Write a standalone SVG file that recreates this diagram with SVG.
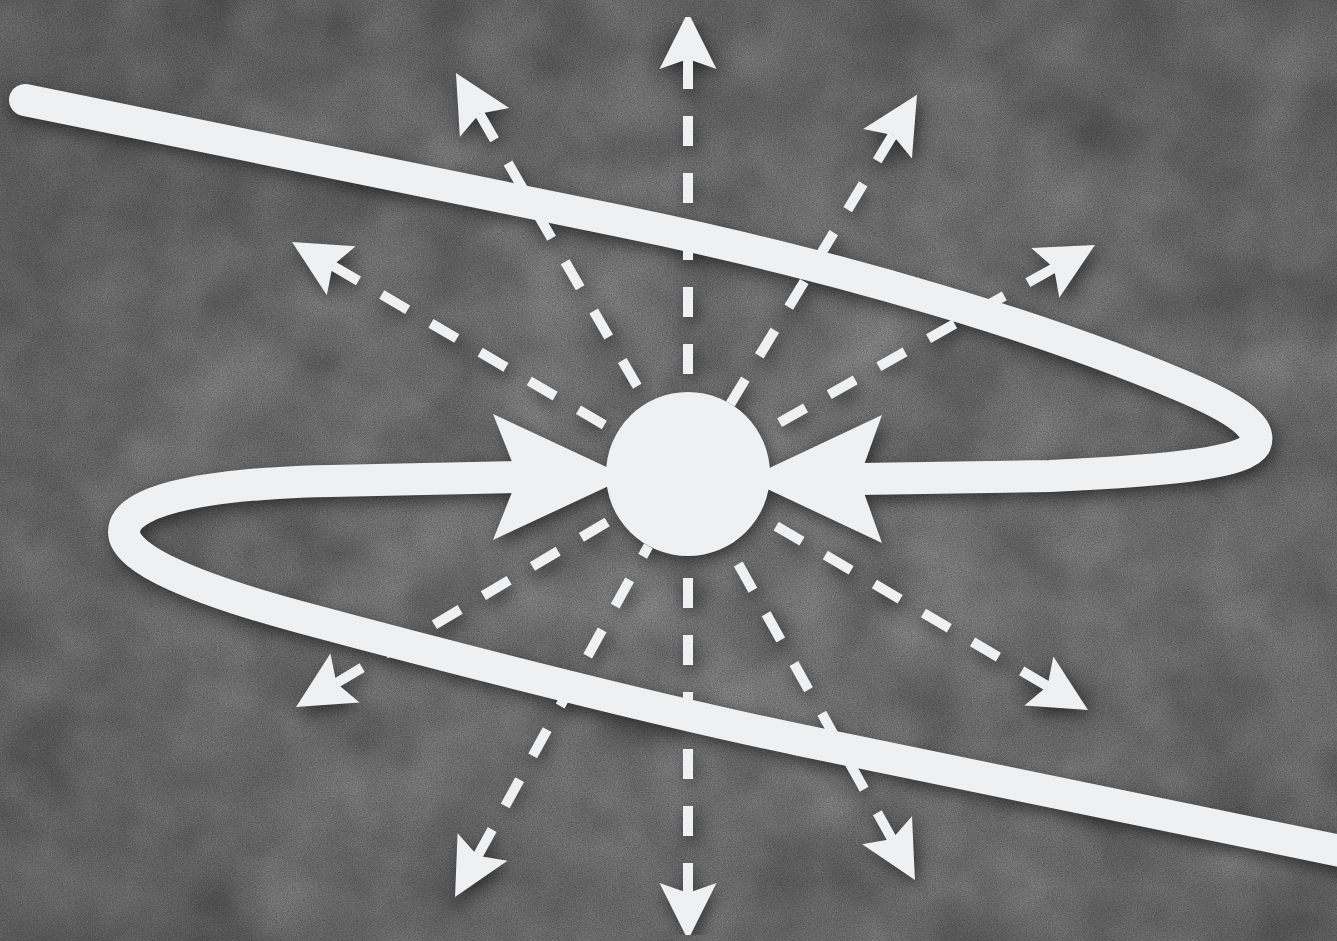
<svg xmlns="http://www.w3.org/2000/svg" width="1337" height="941" viewBox="0 0 1337 941">
<defs>
<style>
.ray{stroke:#eef0f2;stroke-width:10;stroke-dasharray:30 27;fill:none;marker-start:url(#head)}
.curve{stroke:#eef0f2;stroke-width:32;fill:none;stroke-linecap:round;stroke-linejoin:round}
.big{fill:#eef0f2}
filter{color-interpolation-filters:sRGB}
</style>
<marker id="head" markerUnits="userSpaceOnUse" orient="auto-start-reverse" refX="10" refY="0" markerWidth="60" markerHeight="60" overflow="visible">
<path d="M0,-28.5 L57,0 L0,28.5 L10,0 Z" fill="#eef0f2"/>
</marker>
<radialGradient id="bgGrad" cx="0.55" cy="0.55" r="0.75">
<stop offset="0" stop-color="#717171"/>
<stop offset="0.6" stop-color="#666666"/>
<stop offset="1" stop-color="#575757"/>
</radialGradient>
<filter id="grain" x="0" y="0" width="1337" height="941" filterUnits="userSpaceOnUse" color-interpolation-filters="sRGB">
<feTurbulence type="fractalNoise" baseFrequency="0.8" numOctaves="2" seed="7"/>
<feColorMatrix type="matrix" values="0.33 0.33 0.33 0 0  0.33 0.33 0.33 0 0  0.33 0.33 0.33 0 0  0 0 0 0 1"/>
</filter>
<filter id="mottle" x="0" y="0" width="1337" height="941" filterUnits="userSpaceOnUse" color-interpolation-filters="sRGB">
<feTurbulence type="fractalNoise" baseFrequency="0.012" numOctaves="3" seed="4"/>
<feColorMatrix type="matrix" values="0.33 0.33 0.33 0 0  0.33 0.33 0.33 0 0  0.33 0.33 0.33 0 0  0 0 0 0 1"/>
</filter>
<filter id="shadow" x="-5%" y="-5%" width="110%" height="110%" color-interpolation-filters="sRGB">
<feGaussianBlur in="SourceAlpha" stdDeviation="8"/>
<feOffset dx="3" dy="6" result="b"/>
<feFlood flood-color="#000" flood-opacity="0.5"/>
<feComposite in2="b" operator="in"/>
<feMerge><feMergeNode/><feMergeNode in="SourceGraphic"/></feMerge>
</filter>
</defs>
<g id="background">
<rect width="1337" height="941" fill="url(#bgGrad)"/>
<rect width="1337" height="941" filter="url(#mottle)" opacity="0.4" style="mix-blend-mode:overlay"/>
<rect width="1337" height="941" filter="url(#grain)" opacity="0.5" style="mix-blend-mode:overlay"/>
</g>
<g id="foreground" filter="url(#shadow)">
<g id="connectors">
<g id="rays">
<line class="ray" x1="688" y1="59" x2="688" y2="392"/>
<line class="ray" x1="688" y1="893" x2="688" y2="556"/>
<line class="ray" x1="892.7" y1="135.1" x2="730.4" y2="403.8"/>
<line class="ray" x1="479.5" y1="113.7" x2="646.9" y2="403"/>
<line class="ray" x1="1054" y1="268" x2="759.5" y2="433.8"/>
<line class="ray" x1="332.6" y1="265.7" x2="617.2" y2="432.5"/>
<line class="ray" x1="336.4" y1="683" x2="617.5" y2="515.9"/>
<line class="ray" x1="1047.5" y1="686.1" x2="758.6" y2="515.7"/>
<line class="ray" x1="477.7" y1="855.8" x2="648.4" y2="545.8"/>
<line class="ray" x1="892" y1="839" x2="728" y2="545.6"/>
</g>
<g id="curve">
<path class="curve" d="M25,100 L620,221 C850,268 1050,330 1180,385 C1240,410 1262,428 1255,445 C1245,462 1180,470 1050,476 L858,479"/>
<path class="curve" d="M518,477 L330,481 C230,483 124,495 124,532 C124,560 200,590 300,617 C400,644 640,707 800,740 L1360,855"/>
<polygon class="big" points="493,414 628,477 493,540 518,477"/>
<polygon class="big" points="882,415 746,479 882,543 859,479"/>
</g>
</g>
<g id="node-center">
<circle cx="688" cy="474" r="82" fill="#eef0f2"/>
</g>
</g>
</svg>
